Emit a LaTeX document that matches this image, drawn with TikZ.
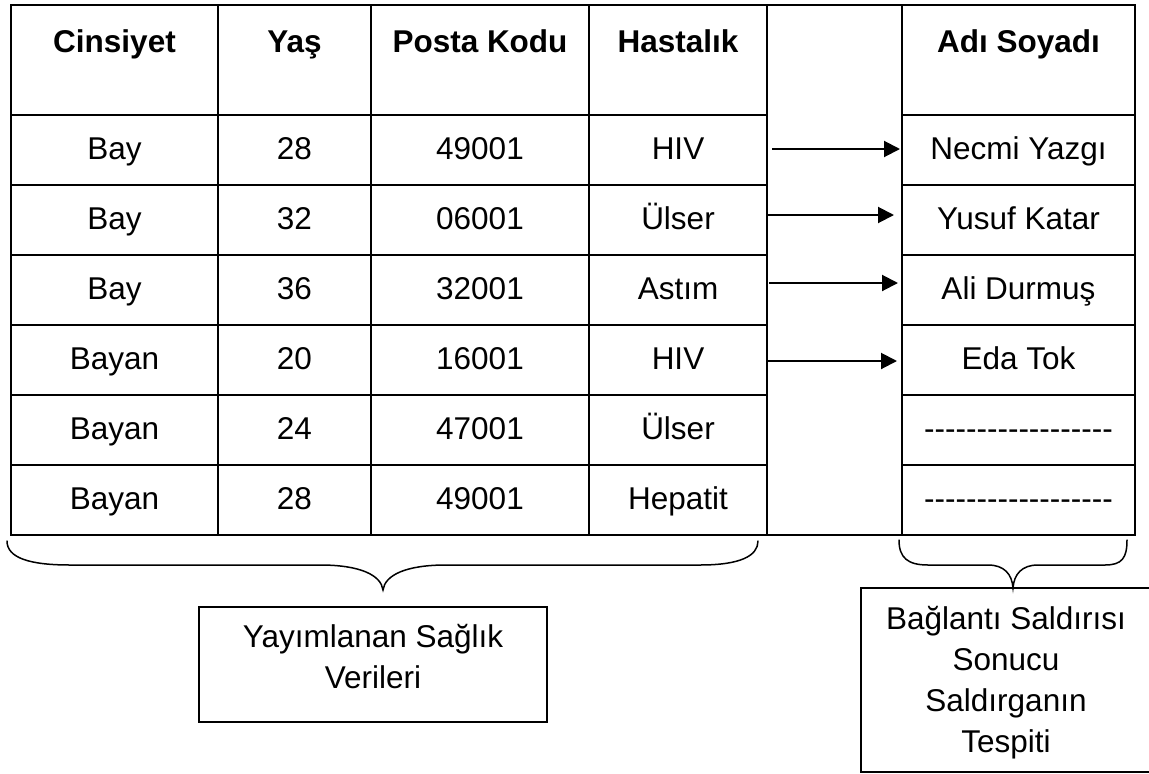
\documentclass[tikz,border=0pt]{standalone}
\usepackage{fontspec}
\setmainfont{Liberation Sans}[Ligatures=TeXOff]
\usetikzlibrary{arrows.meta}
\newcommand\blankname{------------------}
\begin{document}
\begin{tikzpicture}[x=1pt,y=-1pt,
  cell/.style={draw, line width=2pt, inner sep=0pt, outer sep=0pt,
    text height=23pt, text depth=5pt, font=\fontsize{31.5}{36}\selectfont},
  hdr/.style={inner sep=0pt, anchor=base, font=\fontsize{31.5}{36}\selectfont\bfseries},
  link/.style={line width=2pt, -{Triangle[length=16pt,width=16pt]}},
  brace/.style={line width=1.5pt, line cap=round},
  frame/.style={draw, line width=1.4pt, inner sep=0pt},
  note/.style={align=center, inner sep=0pt, font=\fontsize{31.5}{41}\selectfont}]
\useasboundingbox (0,0) rectangle (1149,774);

% header row
\node[cell, minimum width=207, minimum height=110] (k1) at (114.5,60) {};
\node[cell, minimum width=153, minimum height=110] (k2) at (294.5,60) {};
\node[cell, minimum width=218, minimum height=110] (k3) at (480,60) {};
\node[cell, minimum width=178, minimum height=110] (k4) at (678,60) {};
\node[cell, minimum width=233, minimum height=110] (k6) at (1018.5,60) {};
\node[hdr] (t1) at (114.5,52) {Cinsiyet};
\node[hdr] (t2) at (294.5,52) {Yaş};
\node[hdr] (t3) at (480,52) {Posta Kodu};
\node[hdr] (t4) at (678,52) {Hastalık};
\node[hdr] (t6) at (1018.5,52) {Adı Soyadı};

% empty column between the two tables
\node[cell, minimum width=135, minimum height=530] (gap) at (834.5,270) {};

% data rows
\foreach \r/\a/\b/\c/\d/\e in {
  1/Bay/28/49001/HIV/Necmi Yazgı,
  2/Bay/32/06001/Ülser/Yusuf Katar,
  3/Bay/36/32001/Astım/Ali Durmuş,
  4/Bayan/20/16001/HIV/Eda Tok,
  5/Bayan/24/47001/Ülser/\blankname,
  6/Bayan/28/49001/Hepatit/\blankname} {
  \pgfmathsetmacro\yc{115+70*(\r-0.5)}
  \node[cell, minimum width=207, minimum height=70] (a\r) at (114.5,\yc) {\a};
  \node[cell, minimum width=153, minimum height=70] (b\r) at (294.5,\yc) {\b};
  \node[cell, minimum width=218, minimum height=70] (c\r) at (480,\yc) {\c};
  \node[cell, minimum width=178, minimum height=70] (h\r) at (678,\yc) {\d};
  \node[cell, minimum width=233, minimum height=70] (n\r) at (1018.5,\yc) {\e};
}

% linkage arrows
\draw[link] ([xshift=5pt,yshift=1pt]h1.east) -- ([xshift=-2pt,yshift=1pt]n1.west);
\draw[link] ([xshift=-1pt,yshift=5pt]h2.east) -- ([xshift=-8pt,yshift=5pt]n2.west);
\draw[link] ([xshift=2pt,yshift=7pt]h3.east) -- ([xshift=-4pt,yshift=7pt]n3.west);
\draw[link] ([xshift=0pt,yshift=-1pt]h4.east) -- ([xshift=-5pt,yshift=-1pt]n4.west);

% braces
\draw[brace] (7,541) .. controls (7,558) and (30,565) .. (70,565) -- (320,565)
  .. controls (360,565) and (381,575) .. (383,590)
  .. controls (385,575) and (406,565) .. (446,565) -- (700,565)
  .. controls (740,565) and (758,556) .. (758,541);
\draw[brace] (899,540) .. controls (899,558) and (908,565) .. (928,565) -- (988,565)
  .. controls (1004,565) and (1012,574) .. (1013,588)
  .. controls (1014,574) and (1022,565) .. (1038,565) -- (1105,565)
  .. controls (1122,565) and (1127,558) .. (1127,540);

% captions
\node[frame, minimum width=348, minimum height=115] (pub) at (373,664.5) {};
\node[note] (pubtext) at (373,657) {Yayımlanan Sağlık\\Verileri};
\node[frame, minimum width=290, minimum height=184] (res) at (1006,680) {};
\node[note] (restext) at (1006,683) {Bağlantı Saldırısı\\Sonucu\\Saldırganın\\Tespiti};
\end{tikzpicture}
\end{document}
